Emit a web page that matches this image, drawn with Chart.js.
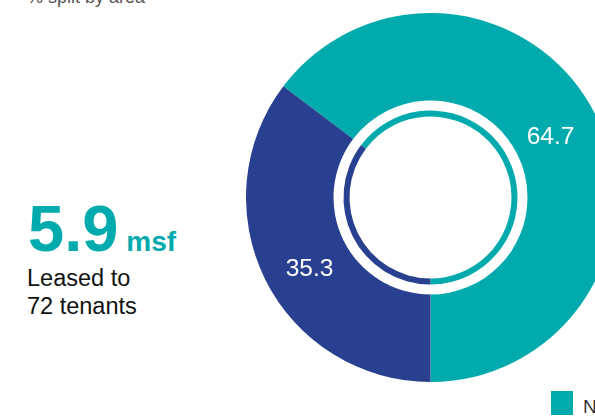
<!DOCTYPE html>
<html>
<head>
<meta charset="utf-8">
<script src="https://cdn.jsdelivr.net/npm/chart.js@4.4.1/dist/chart.umd.min.js"></script>
<style>
    html, body {
        margin: 0;
        padding: 0;
        width: 595px;
        height: 419px;
        overflow: hidden;
        background: #fff;
        font-family: "Liberation Sans", Arial, Helvetica, sans-serif;
    }
    .wrap {
        position: relative;
        width: 595px;
        height: 419px;
        overflow: hidden;
    }
    .chart-box {
        position: absolute;
        left: 245.5px;
        top: 12.5px;
        width: 369px;
        height: 369px;
    }
    .subtitle {
        position: absolute;
        left: 27px;
        top: -13px;
        font-size: 18px;
        color: #555;
        white-space: nowrap;
    }
    .subtitle sup {
        font-size: 10px;
        color: #bbb;
    }
    .big {
        position: absolute;
        left: 28px;
        top: 191px;
        color: #00aaad;
        font-weight: bold;
        white-space: nowrap;
    }
    .big .num {
        font-size: 65px;
    }
    .big .unit {
        font-size: 28px;
        margin-left: 8px;
    }
    .caption {
        position: absolute;
        left: 27px;
        top: 264px;
        font-size: 23.5px;
        line-height: 28px;
        color: #111;
    }
    .legend {
        position: absolute;
        left: 551px;
        top: 391px;
        white-space: nowrap;
        font-size: 19px;
        color: #333;
    }
    .legend .swatch {
        display: inline-block;
        width: 22px;
        height: 24px;
        background: #00aaad;
        vertical-align: top;
        margin-right: 10px;
    }
    .legend .txt {
        display: inline-block;
        padding-top: 5px;
    }
</style>
</head>
<body>
<div class="wrap">
    <div class="subtitle">% split by area<sup>(1)</sup></div>
    <div class="big"><span class="num">5.9</span><span class="unit">msf</span></div>
    <div class="caption">Leased to<br>72 tenants</div>
    <div class="chart-box"><canvas id="donut"></canvas></div>
    <div class="legend"><span class="swatch"></span><span class="txt">Non-SEZ</span></div>
</div>
<script>
// Data
const categories = ['Non-SEZ', 'SEZ'];
const shares = [64.7, 35.3];
const colours = ['#00aaad', '#28408f'];

// Nudges for the value labels (px)
const labelNudge = [[-6, 2], [5, 9]];

// Value labels on the outer ring
const valueLabels = {
    id: 'valueLabels',
    afterDatasetsDraw(chart) {
        const ctx = chart.ctx;
        const meta = chart.getDatasetMeta(0);
        ctx.save();
        ctx.fillStyle = '#fff';
        ctx.font = '24.5px "Liberation Sans", Arial, sans-serif';
        ctx.textAlign = 'center';
        ctx.textBaseline = 'middle';
        meta.data.forEach((arc, i) => {
            const pos = arc.tooltipPosition();
            ctx.fillText(shares[i].toFixed(1), pos.x + labelNudge[i][0], pos.y + labelNudge[i][1]);
        });
        ctx.restore();
    }
};

document.addEventListener('DOMContentLoaded', function() {
    const donutCtx = document.getElementById('donut');
    new Chart(donutCtx, {
        type: 'doughnut',
        data: {
            labels: categories,
            datasets: [{
                data: shares,
                backgroundColor: colours,
                borderWidth: 0,
                weight: 87.5
            }, {
                // white gap between the rings
                data: shares,
                backgroundColor: ['rgba(0,0,0,0)', 'rgba(0,0,0,0)'],
                borderWidth: 0,
                weight: 10
            }, {
                data: shares,
                backgroundColor: colours,
                borderWidth: 0,
                weight: 6
            }]
        },
        options: {
            responsive: true,
            maintainAspectRatio: false,
            animation: false,
            // second slice ends at the bottom of the ring
            rotation: (shares[1] / 100) * 360 - 180,
            cutout: (81 / 184.5 * 100) + '%',
            layout: { padding: 0 },
            plugins: {
                legend: { display: false },
                tooltip: { enabled: false }
            }
        },
        plugins: [valueLabels]
    });
});
</script>
</body>
</html>
